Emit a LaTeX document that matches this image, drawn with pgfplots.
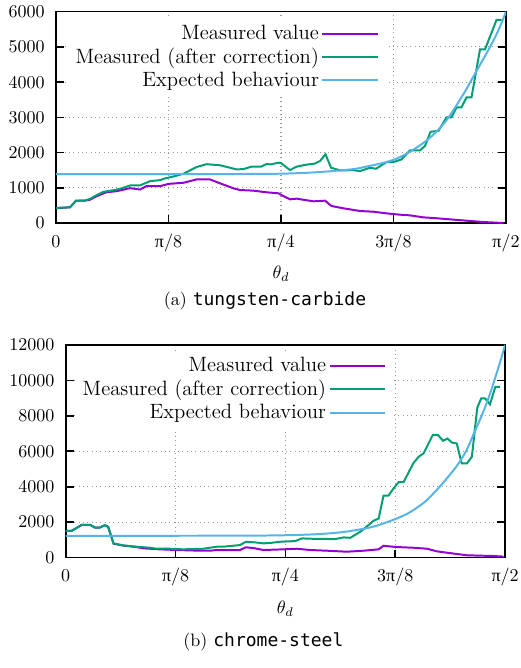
\documentclass[border=0pt]{standalone}
\usepackage{fontspec}
\setmonofont{DejaVu Sans Mono}
\newfontfamily\pifont{Liberation Serif}
\usepackage{pgfplots}
\pgfplotsset{compat=1.18}
\definecolor{cA}{HTML}{9400D3}
\definecolor{cB}{HTML}{009E73}
\definecolor{cC}{HTML}{56B4E9}
\pgfplotsset{
 myaxis/.style={
  scale only axis,
  xmin=0, xmax=90,
  xtick={0,22.5,45,67.5,90},
  xticklabels={0, {\pifont π}/8, {\pifont π}/4, 3{\pifont π}/8, {\pifont π}/2},
  xtick pos=left,
  ytick pos=both,
  scaled y ticks=false,
  grid=major,
  major grid style={dotted, gray!80, line width=0.6pt},
  axis line style={line width=0.9pt},
  every tick/.style={black, line width=0.9pt},
  tick align=inside,
  major tick length=4.4pt,
  /pgf/number format/assume math mode=true,
  /pgf/number format/1000 sep={},
  xticklabel style={text height=7.5pt, text depth=2.5pt, yshift=-2.4pt},
  yticklabel style={xshift=-2.8pt},
  xlabel={$\theta_d$},
  xlabel style={at={(axis description cs:0.5,0)}, anchor=base, yshift=-31pt},
  legend cell align=right,
  legend plot pos=right,
  legend style={draw=none, fill=white, anchor=north east, font=\fontsize{11.5pt}{13pt}\selectfont,
    row sep=0.4pt, nodes={inner sep=1.4pt, text depth=0.15em}},
  legend image code/.code={\path (0pt,0pt) -- (31pt,0pt); \draw[##1] (5pt,0pt) -- (31pt,0pt);},
 }
}
\begin{document}
\begin{tikzpicture}
\useasboundingbox (0pt,0pt) rectangle (288.9pt,-371.1pt);
\begin{axis}[myaxis, width=250pt, height=117.4pt, at={(31.11pt,-123.89pt)}, anchor=south west,
  ymin=0, ymax=6000, ytick={0,1000,...,6000},
  legend style={at={(0.731,0.967)}}]
\addplot[cA, line width=1.1pt] table[row sep=\\] {
x y\\
0 420\\ 2.8 446\\ 4.0 630\\ 5.8 637\\ 6.8 660\\ 8.1 760\\ 10.1 874\\ 12.1 903\\ 14.8 989\\ 16.8 951\\ 18.1 1046\\ 20.8 1046\\ 22.5 1111\\ 25.5 1143\\ 28.1 1237\\ 30.8 1237\\ 32.8 1128\\ 35.5 985\\ 36.8 937\\ 39.5 918\\ 42.1 872\\ 44.5 843\\ 45.1 795\\ 46.8 672\\ 48.1 691\\ 51.5 616\\ 53.8 634\\ 55.1 483\\ 57.5 417\\ 60.8 341\\ 63.5 320\\ 66.1 274\\ 68.8 236\\ 70.8 217\\ 73.5 160\\ 75.5 142\\ 78.8 104\\ 82.1 66\\ 85.5 28\\ 89.5 0\\
};
\addlegendentry{Measured value}
\addplot[cB, line width=1.1pt] table[row sep=\\] {
x y\\
0 429\\ 2.8 446\\ 4.0 637\\ 5.8 637\\ 6.8 686\\ 8.1 789\\ 9.5 886\\ 11.5 931\\ 12.8 971\\ 14.8 1066\\ 16.8 1066\\ 18.8 1189\\ 20.8 1217\\ 21.8 1266\\ 23.8 1331\\ 25.5 1400\\ 28.1 1589\\ 30.1 1670\\ 32.8 1640\\ 36.1 1523\\ 37.5 1530\\ 39.1 1600\\ 41.0 1600\\ 42.1 1674\\ 43.0 1665\\ 44.5 1714\\ 45.1 1690\\ 46.8 1503\\ 48.1 1600\\ 50.1 1657\\ 51.7 1685\\ 52.8 1760\\ 53.9 1951\\ 55.0 1571\\ 56.8 1494\\ 59.5 1500\\ 60.8 1474\\ 62.8 1570\\ 64.0 1540\\ 66.1 1731\\ 67.5 1731\\ 69.1 1806\\ 70.8 2063\\ 72.8 2063\\ 73.8 2189\\ 74.9 2589\\ 76.5 2617\\ 78.1 3000\\ 79.1 3000\\ 80.1 3286\\ 81.1 3286\\ 82.1 3570\\ 83.1 3570\\ 84.8 4930\\ 85.8 4930\\ 88.1 5765\\ 89.1 5765\\
};
\addlegendentry{Measured (after correction)}
\addplot[cC, line width=1.1pt, smooth] table[row sep=\\] {
x y\\
0 1390\\ 30 1390\\ 40 1393\\ 45 1400\\ 50 1425\\ 54 1460\\ 57 1495\\ 60 1540\\ 62 1600\\ 64 1660\\ 66 1730\\ 68 1820\\ 70 1960\\ 72 2130\\ 74 2330\\ 76 2580\\ 78 2900\\ 79 3100\\ 80 3320\\ 81 3550\\ 82 3780\\ 83 4040\\ 84 4290\\ 85 4540\\ 86 4790\\ 87 5050\\ 88 5330\\ 89 5640\\ 90 6000\\
};
\addlegendentry{Expected behaviour}
\end{axis}
\node[anchor=base] at (147.2pt,-169.8pt) {(a) \texttt{tungsten-carbide}};
\begin{axis}[myaxis, width=244.1pt, height=118.2pt, at={(36.5pt,-309.8pt)}, anchor=south west,
  ymin=0, ymax=12000, ytick={0,2000,...,12000},
  legend style={at={(0.743,0.971)}}]
\addplot[cA, line width=1.1pt] table[row sep=\\] {
x y\\
0 1510\\ 1.2 1510\\ 3.3 1850\\ 5.0 1850\\ 6.0 1700\\ 7.0 1700\\ 8.0 1830\\ 8.7 1736\\ 9.8 790\\ 11.8 680\\ 14.5 600\\ 15.9 526\\ 19.3 470\\ 22.7 431\\ 27.5 392\\ 29.6 392\\ 30.9 431\\ 35.7 431\\ 36.9 582\\ 38.4 545\\ 40.5 431\\ 44.6 470\\ 47.3 504\\ 50.1 431\\ 53.5 392\\ 57.6 336\\ 61.0 392\\ 64.1 470\\ 65.1 672\\ 67.1 616\\ 69.2 582\\ 71.2 560\\ 74.0 504\\ 76.0 358\\ 78.1 280\\ 80.1 207\\ 82.2 134\\ 84.9 112\\ 87.6 95\\ 89.7 60\\
};
\addlegendentry{Measured value}
\addplot[cB, line width=1.1pt] table[row sep=\\] {
x y\\
0 1510\\ 1.2 1510\\ 3.3 1850\\ 5.0 1850\\ 6.0 1700\\ 7.0 1700\\ 8.0 1830\\ 8.7 1736\\ 9.8 806\\ 11.8 694\\ 14.5 616\\ 17.3 560\\ 18.6 504\\ 21.4 504\\ 24.1 470\\ 28.2 504\\ 30.9 616\\ 32.3 620\\ 35.7 711\\ 36.9 896\\ 38.8 862\\ 40.5 806\\ 42.2 840\\ 43.9 896\\ 47.0 935\\ 48.4 1086\\ 50.7 1064\\ 55.2 1047\\ 56.9 1142\\ 58.3 1120\\ 60.3 1456\\ 62.0 1831\\ 63.0 2072\\ 64.1 2206\\ 65.1 3494\\ 66.1 3494\\ 67.1 3886\\ 68.2 4256\\ 69.2 4256\\ 71.2 5320\\ 72.3 5695\\ 73.3 5880\\ 75.2 6927\\ 76.2 6927\\ 77.3 6591\\ 78.2 6720\\ 79.1 6496\\ 80.1 6440\\ 81.1 5320\\ 82.2 5320\\ 83.2 5695\\ 84.3 8456\\ 85.1 8982\\ 85.9 8982\\ 86.9 8646\\ 88.0 9632\\ 89.0 9632\\
};
\addlegendentry{Measured (after correction)}
\addplot[cC, line width=1.1pt, smooth] table[row sep=\\] {
x y\\
0 1230\\ 35 1240\\ 45 1265\\ 50 1305\\ 53 1350\\ 56 1420\\ 58 1490\\ 60 1580\\ 62 1680\\ 64 1830\\ 65.8 2000\\ 68 2230\\ 70 2480\\ 72 2830\\ 74 3250\\ 76.6 4000\\ 78 4450\\ 80 5130\\ 82 6000\\ 83.6 7000\\ 85.2 8000\\ 86.6 9000\\ 87.8 10000\\ 89 11050\\ 90 12000\\
};
\addlegendentry{Expected behaviour}
\end{axis}
\node[anchor=base] at (146.3pt,-358.9pt) {(b) \texttt{chrome-steel}};
\end{tikzpicture}
\end{document}
